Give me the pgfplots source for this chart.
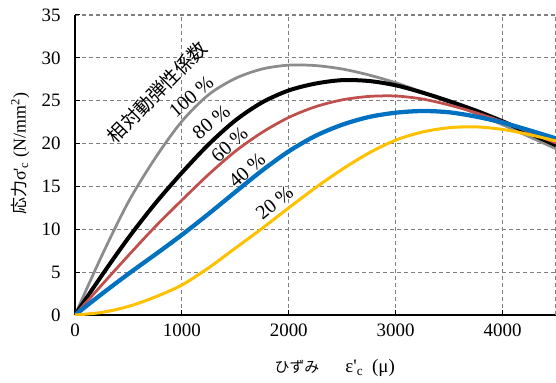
\documentclass[border=0pt]{standalone}
\usepackage{fontspec}
\setmainfont{Liberation Serif}
\newfontfamily\jp{Noto Sans CJK JP}
\usepackage{pgfplots}
\pgfplotsset{compat=1.18}
\definecolor{cgray}{HTML}{8C8C8C}
\definecolor{cred}{HTML}{C0504D}
\definecolor{cblue}{HTML}{0070C0}
\definecolor{cyellow}{HTML}{FFC000}
\definecolor{gridgray}{HTML}{808080}
\begin{document}
\begin{tikzpicture}
\begin{axis}[
 name=ax,
 scale only axis, width=481bp, height=300bp,
 xmin=0, xmax=4500, ymin=0, ymax=35,
 xtick={0,1000,2000,3000,4000}, ytick={0,5,...,35},
 extra x ticks={4500}, extra x tick labels={},
 extra x tick style={grid=major, major tick length=0pt},
 grid=major,
 major grid style={draw=gridgray, line width=1.1bp, dash pattern=on 4bp off 3bp},
 axis x line=bottom, axis y line=left,
 axis line style={black, line width=1.6bp, -},
 x axis line style={-}, y axis line style={-},
 tick style={black, line width=1bp}, major tick length=5bp, tick align=inside,
 tick label style={font=\fontsize{19}{22}\selectfont, /pgf/number format/assume math mode=true, /pgf/number format/1000 sep={}},
 yticklabel style={xshift=-11bp},
 xticklabel style={yshift=-5bp},
 every axis x label/.style={at={(axis description cs:0.54,-0.177)},anchor=center,font=\fontsize{19}{22}\selectfont},
 every axis y label/.style={at={(axis description cs:-0.114,0.537)},anchor=center,rotate=90,font=\fontsize{18}{21}\selectfont},
 xlabel={{\jp\fontsize{15}{17}\selectfont ひずみ}\hspace{26bp}ε\textquotesingle\textsubscript{c}\hspace{9bp}(μ)},
 ylabel={{\jp\fontsize{17}{20}\selectfont 応力}σ\textquotesingle\textsubscript{c} (N/mm\textsuperscript{2})},
]
\addplot[cgray, line width=2.75bp, smooth] coordinates {
(0,0) (250,6.9) (500,13.2) (750,18.3) (1000,22.6) (1250,25.7) (1500,27.6) (1750,28.7) (2000,29.15) (2250,29.1) (2500,28.7) (2750,28.0) (3000,27.1) (3250,26.0) (3500,24.8) (3750,23.5) (4000,22.2) (4250,20.8) (4500,19.4)};
\addplot[black, line width=4bp, smooth] coordinates {
(0,0) (250,4.6) (500,9.0) (750,13.0) (1000,16.6) (1250,19.9) (1500,22.7) (1750,24.8) (2000,26.2) (2250,27.0) (2500,27.4) (2750,27.3) (3000,26.8) (3250,25.95) (3500,24.95) (3750,23.85) (4000,22.6) (4250,21.2) (4500,19.8)};
\addplot[cred, line width=2.75bp, smooth] coordinates {
(0,0) (250,3.5) (500,6.95) (750,10.3) (1000,13.4) (1250,16.4) (1500,19.1) (1750,21.3) (2000,23.05) (2250,24.3) (2500,25.1) (2750,25.5) (3000,25.55) (3250,25.2) (3500,24.5) (3750,23.6) (4000,22.55) (4250,21.35) (4500,20.05)};
\addplot[cblue, line width=4.25bp, smooth] coordinates {
(0,0) (250,2.45) (500,4.8) (750,7.05) (1000,9.35) (1250,11.8) (1500,14.35) (1750,16.85) (2000,19.1) (2250,20.9) (2500,22.2) (2750,23.1) (3000,23.6) (3250,23.8) (3500,23.65) (3750,23.15) (4000,22.45) (4250,21.55) (4500,20.6)};
\addplot[cyellow, line width=3bp, smooth] coordinates {
(0,0) (250,0.3) (500,1.0) (750,2.1) (1000,3.5) (1250,5.5) (1500,7.8) (1750,10.1) (2000,12.5) (2250,14.85) (2500,17.0) (2750,18.9) (3000,20.4) (3250,21.35) (3500,21.85) (3750,21.95) (4000,21.65) (4250,21.05) (4500,20.3)};
\node[rotate=45.6, anchor=center, font=\jp\fontsize{19}{22}\selectfont] at (axis cs:769,26.0) {相対動弾性係数};
\node[rotate=41, anchor=center, font=\fontsize{20}{22}\selectfont] at (axis cs:1087,25.5) {100 \%};
\node[rotate=39, anchor=center, font=\fontsize{20}{22}\selectfont] at (axis cs:1275,22.5) {80 \%};
\node[rotate=42, anchor=center, font=\fontsize{20}{22}\selectfont] at (axis cs:1445,19.9) {60 \%};
\node[rotate=42, anchor=center, font=\fontsize{20}{22}\selectfont] at (axis cs:1609,16.9) {40 \%};
\node[rotate=39.5, anchor=center, font=\fontsize{20}{22}\selectfont] at (axis cs:1866,13.1) {20 \%};
\end{axis}
\pgfresetboundingbox
\path[use as bounding box] ([shift={(-75bp,-68bp)}]ax.south west) rectangle ([shift={(0bp,15bp)}]ax.north east);
\end{tikzpicture}
\end{document}
